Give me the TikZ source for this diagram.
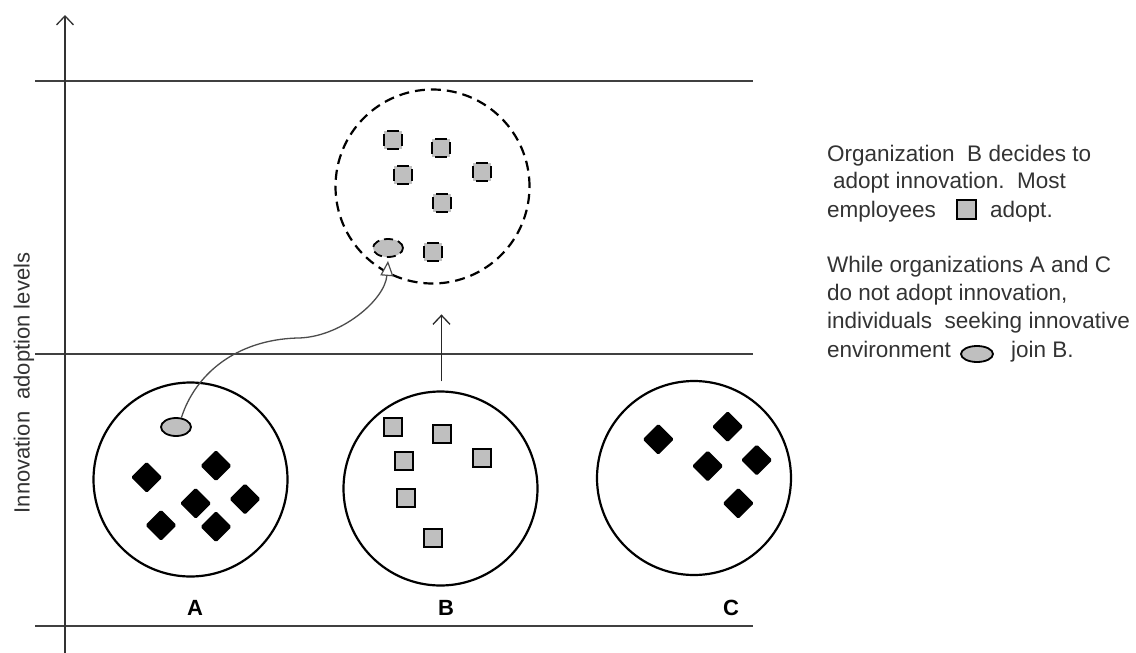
\documentclass[tikz,border=0pt]{standalone}
\usepackage{fontspec}
\setmainfont{Liberation Sans}
\usetikzlibrary{arrows.meta,shapes.geometric}
\begin{document}
\begin{tikzpicture}[x=1pt,y=-1pt,
  txt/.style={font=\fontsize{22.5}{27}\selectfont, text=black!80, inner sep=0pt, anchor=base west},
  lbl/.style={font=\fontsize{22}{26}\selectfont\bfseries, inner sep=0pt},
  org/.style={circle, draw, line width=2.2pt, minimum size=194pt, inner sep=0pt},
  dorg/.style={org, dash pattern=on 10pt off 6pt},
  sq/.style={draw, fill=gray!50, line width=2pt, minimum size=18pt, inner sep=0pt},
  dsq/.style={sq, dash pattern=on 12pt off 6pt, dash phase=15pt},
  dia/.style={fill=black, minimum size=22pt, inner sep=0pt, rotate=45, rounded corners=1.5pt},
  ell/.style={ellipse, draw, fill=gray!50, line width=1.8pt, minimum width=30pt, minimum height=18pt, inner sep=0pt},
  dell/.style={ell, dash pattern=on 9pt off 5pt},
  level/.style={line width=1.4pt, draw=black!75},
  axis/.style={line width=1.4pt, draw=black!80, -{Straight Barb[length=9pt,width=17pt,line width=1.3pt]}},
  uparr/.style={line width=1.4pt, draw=black!85, -{Straight Barb[length=9pt,width=17pt,line width=1.3pt]}},
  move/.style={line width=1.3pt, draw=black!70, -{Triangle[length=15pt,width=13pt,fill=white,line width=1.2pt]}}
]
\useasboundingbox (0,0) rectangle (1136,653);
\fill[white] (0,0) rectangle (1136,653);

% level lines
\coordinate (l1a) at (35,81);  \coordinate (l1b) at (753,81);
\coordinate (l2a) at (35,354); \coordinate (l2b) at (753,354);
\coordinate (l3a) at (35,626); \coordinate (l3b) at (753,626);
\draw[level] (l1a) -- (l1b);
\draw[level] (l2a) -- (l2b);
\draw[level] (l3a) -- (l3b);

% axis
\coordinate (ax0) at (65,653);
\coordinate (ax1) at (65,15);
\draw[axis] (ax0) -- (ax1);
\node[font=\fontsize{22}{26}\selectfont, text=black!80, rotate=90, inner sep=0pt] (ylab) at (24,383) {Innovation\ \ adoption levels};

% organizations
\node[org] (A) at (190.5,479.5) {};
\node[org] (B) at (440.5,488.5) {};
\node[org] (C) at (694,478) {};
\node[dorg] (D) at (432.5,186.5) {};

\node[lbl] (la) at (195,608) {A};
\node[lbl] (lb) at (446,608) {B};
\node[lbl] (lc) at (731,608) {C};

% A contents
\node[ell] (ea) at (176,427) {};
\node[dia] (a1) at (146.7,477.3) {};
\node[dia] (a2) at (216,465.7) {};
\node[dia] (a3) at (195.7,503.3) {};
\node[dia] (a4) at (245,499) {};
\node[dia] (a5) at (161,525.3) {};
\node[dia] (a6) at (216,526.7) {};

% B contents
\node[sq] (b1) at (393.3,426.7) {};
\node[sq] (b2) at (441.7,434) {};
\node[sq] (b3) at (403.7,461.3) {};
\node[sq] (b4) at (482.3,457.7) {};
\node[sq] (b5) at (406.3,498) {};
\node[sq] (b6) at (432.7,537.7) {};

% C contents
\node[dia] (c1) at (658.3,439.3) {};
\node[dia] (c2) at (727.7,426.7) {};
\node[dia] (c3) at (707.7,466) {};
\node[dia] (c4) at (756.7,460) {};
\node[dia] (c5) at (738.3,503.3) {};

% adopted B contents
\node[dsq] (d1) at (392.7,140) {};
\node[dsq] (d2) at (441,147.7) {};
\node[dsq] (d3) at (403,175) {};
\node[dsq] (d4) at (482,171.7) {};
\node[dsq] (d5) at (441.7,203) {};
\node[dsq] (d6) at (432.7,251.7) {};
\node[dell] (eb) at (388,248) {};

% connectors
\draw[uparr] ([xshift=1pt,yshift=9pt]B.north) -- ([xshift=1pt,yshift=76pt]B.north);
\draw[move] (ea.60) .. controls (195,375) and (235,340) .. (297,338)
            .. controls (340,338) and (385,300) .. ([yshift=-3pt]eb.south);

% explanatory text
\node[txt] (t1) at (827,161.7) {Organization\ \ B decides to};
\node[txt] (t2) at (833,188) {adopt innovation.\ \ Most};
\node[txt] (t3) at (827,217) {employees};
\node[sq, minimum size=19pt] (k1) at (966,209) {};
\node[txt] (t3b) at (990,217) {adopt.};
\node[txt] (t4) at (827,272) {While organizations A and C};
\node[txt] (t5) at (827,300) {do not adopt innovation,};
\node[txt] (t6) at (827,328) {individuals\ \ seeking innovative};
\node[txt] (t7) at (827,357) {environment};
\node[ell, minimum width=32pt, minimum height=16pt] (k2) at (977,354) {};
\node[txt] (t7b) at (1011,357) {join B.};
\end{tikzpicture}
\end{document}
